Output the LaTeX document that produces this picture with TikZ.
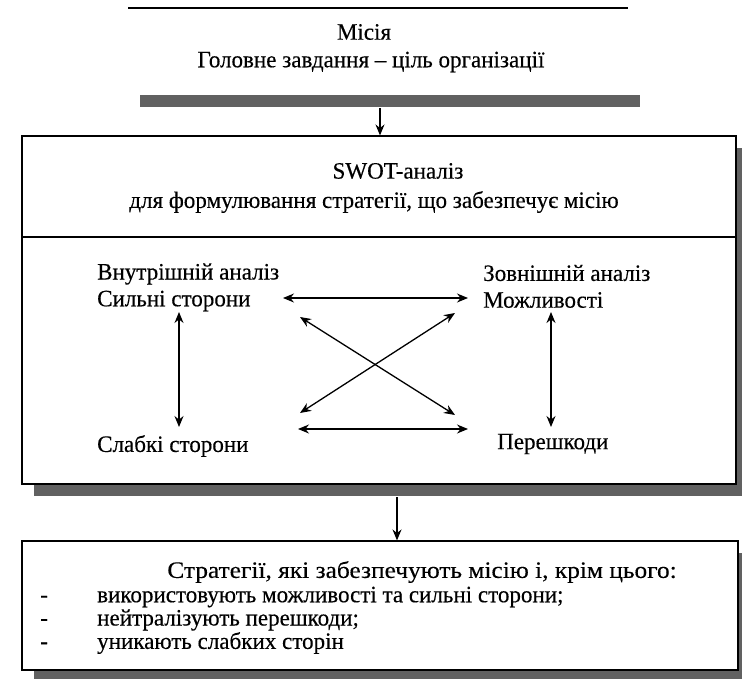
\documentclass[tikz,border=0pt]{standalone}
\usepackage{fontspec}
\setmainfont{Liberation Serif}[FakeStretch=0.98,FakeBold=0.3]
\usetikzlibrary{arrows.meta,positioning,shadows}
\newcommand\dashline[1]{\makebox[57pt][l]{-}#1}
\begin{document}
\begin{tikzpicture}[x=1pt,y=-1pt,
    frame/.style={draw,line width=1.1pt,fill=white,
      drop shadow={shadow xshift=12pt,shadow yshift=-12pt,fill=black!62,opacity=1}},
    txt/.style={inner sep=0pt,font=\fontsize{23.5}{27}\selectfont},
    link/.style={line width=1.3pt,-{Stealth[length=11pt,width=9pt]}},
    both/.style={line width=1.3pt,{Stealth[length=11pt,width=9pt]}-{Stealth[length=11pt,width=9pt]}}]
  \useasboundingbox (0,0) rectangle (742,678);
  \clip (0,0) rectangle (742,678);
  % mission
  \fill[black!62] (140,95) rectangle (640,107);
  \draw[line width=1.1pt] (128,8) -- (628,8);
  \node[txt] (mis) at (364,32) {Місія};
  \node[txt] (head) at (371,62) {Головне завдання -- ціль організації};
  \coordinate (m1) at (380,108);
  % swot
  \node[frame,minimum width=714pt,minimum height=348pt] (swot) at (379,310) {};
  \draw[line width=1.1pt] (swot.west |- 0,237) -- (swot.east |- 0,237);
  \node[txt] (swt) at (398,171) {SWOT-аналіз};
  \node[txt] (goal) at (374,202) {для формулювання стратегії, що забезпечує місію};
  \draw[link] (m1) -- (m1 |- swot.north);
  \node[txt,anchor=west] (vn) at (97,274) {Внутрішній аналіз};
  \node[txt,anchor=west] (sil) at (97,301) {Сильні сторони};
  \node[txt,anchor=west] (sl) at (97,446) {Слабкі сторони};
  \node[txt,anchor=west] (zov) at (483,273) {Зовнішній аналіз};
  \node[txt,anchor=west] (mozh) at (483,300) {Можливості};
  \node[txt,anchor=west] (per) at (497,444) {Перешкоди};
  \coordinate (s1) at (179,312); \coordinate (s2) at (179,427);
  \coordinate (o1) at (551,312); \coordinate (o2) at (551,427);
  \coordinate (h1) at (283,298); \coordinate (h2) at (468,298);
  \coordinate (h3) at (298,429); \coordinate (h4) at (468,429);
  \coordinate (d1) at (300,317); \coordinate (d2) at (455,415);
  \coordinate (d3) at (455,313); \coordinate (d4) at (300,413);
  \draw[both] (s1) -- (s2);
  \draw[both] (o1) -- (o2);
  \draw[both] (h1) -- (h2);
  \draw[both] (h3) -- (h4);
  \draw[both] (d1) -- (d2);
  \draw[both] (d3) -- (d4);
  % strategies
  \node[frame,minimum width=716pt,minimum height=129pt] (strat) at (380,605.5) {};
  \coordinate (w1) at (397,497);
  \draw[link] (w1) -- (w1 |- strat.north);
  \node[txt,font=\fontsize{23.5}{27}\selectfont\addfontfeature{FakeStretch=1.08}] (st0) at (422,572) {Стратегії, які забезпечують місію і, крім цього:};
  \node[txt,anchor=west] (st1) at (40,597) {\dashline{використовують можливості та сильні сторони;}};
  \node[txt,anchor=west] (st2) at (40,620) {\dashline{нейтралізують перешкоди;}};
  \node[txt,anchor=west] (st3) at (40,643) {\dashline{уникають слабких сторін}};
\end{tikzpicture}
\end{document}
